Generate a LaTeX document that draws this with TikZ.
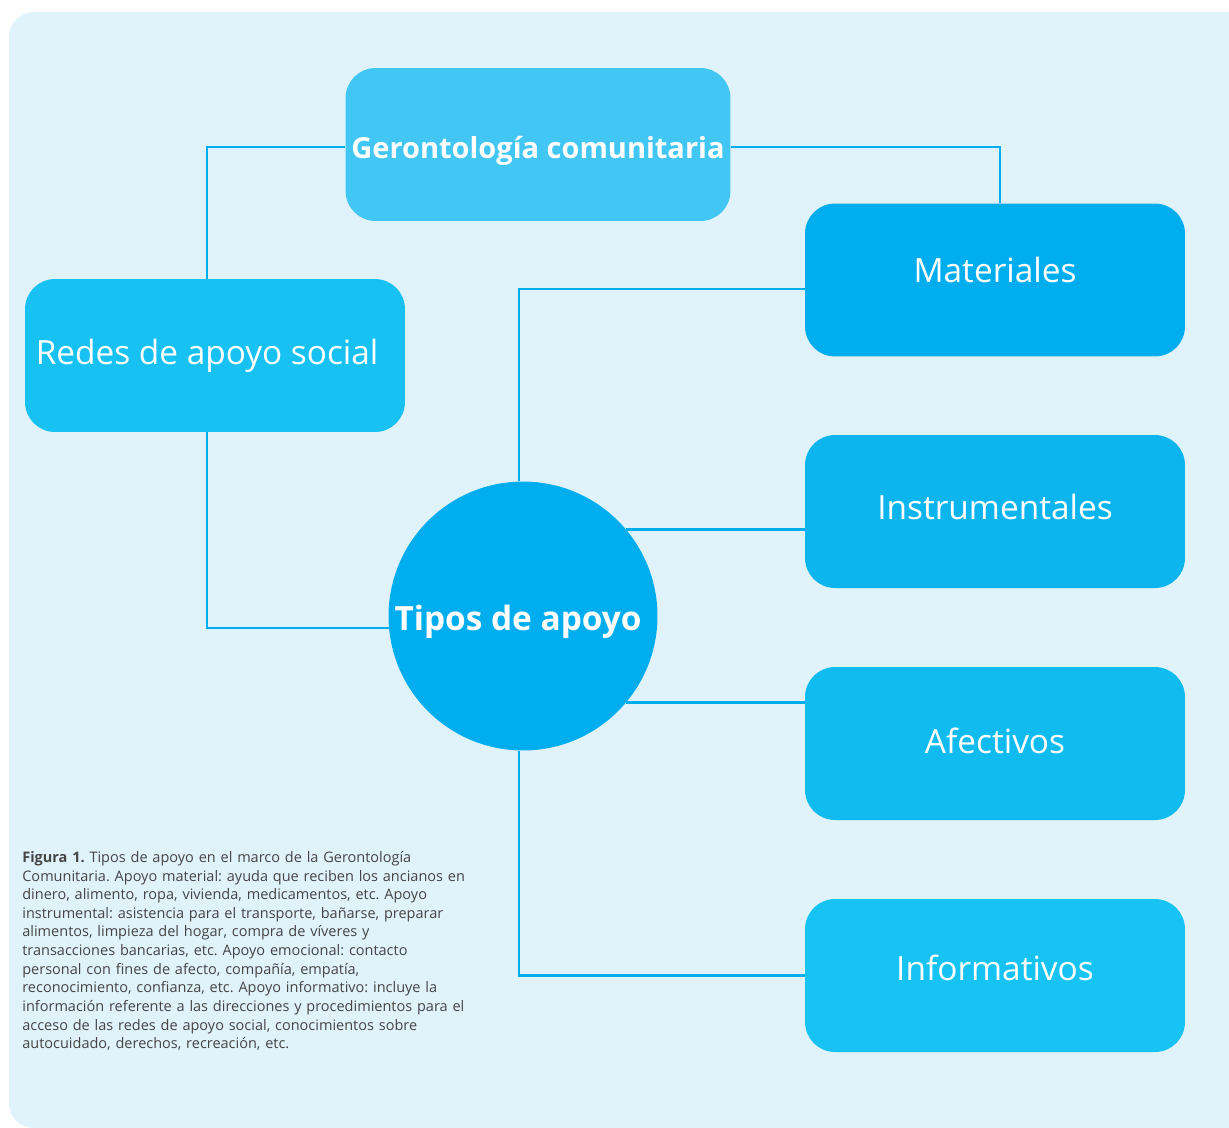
\documentclass[tikz,border=0pt]{standalone}
\usepackage{fontspec}
\setmainfont{Open Sans}
\usetikzlibrary{positioning,calc}
\definecolor{bgblue}{HTML}{E0F2FA}
\definecolor{lineblue}{HTML}{00AEEF}
\definecolor{gerblue}{HTML}{42C7F4}
\definecolor{redblue}{HTML}{17C1F2}
\definecolor{matblue}{HTML}{00AEEF}
\definecolor{insblue}{HTML}{0DB5EE}
\definecolor{afeblue}{HTML}{10BBF0}
\definecolor{infblue}{HTML}{17C3F3}
\definecolor{capgray}{HTML}{454545}
\newcommand{\liftlabel}[2]{\raisebox{#1}[\height][\depth]{#2}}

\begin{document}
\begin{tikzpicture}[x=0.02cm, y=-0.02cm,
    box/.style={rectangle, rounded corners=0.6cm, minimum width=7.6cm, minimum height=3.06cm,
                text=white, font=\fontsize{19}{22}\selectfont},
    link/.style={draw=lineblue, line width=1.4pt}]

    % Frame
    \useasboundingbox (0,0) rectangle (1229,1127);
    \clip (0,0) rectangle (1229,1127);
    \fill[bgblue, rounded corners=0.5cm] (9,12) rectangle (1260,1128);

    % Nodes
    \node at (538,144.5) (geron) [box, fill=gerblue, font=\fontsize{16.5}{20}\selectfont\bfseries] {\liftlabel{-3.4pt}{Gerontología comunitaria}};
    \node at (215,355.5) (redes) [box, fill=redblue] {\kern-9pt Redes de apoyo social};
    \node at (995,280) (mater) [box, fill=matblue] {\liftlabel{5.7pt}{Materiales}};
    \node at (995,511.5) (instr) [box, fill=insblue] {\liftlabel{2.3pt}{Instrumentales}};
    \node at (995,743.5) (afect) [box, fill=afeblue] {\liftlabel{1.7pt}{Afectivos}};
    \node at (995,975.5) (infor) [box, fill=infblue] {\liftlabel{4.5pt}{Informativos}};
    \node at (523,616) (tipos) [circle, fill=lineblue, minimum size=5.38cm, inner sep=0pt,
        text=white, font=\fontsize{19}{22}\selectfont\bfseries] {\kern-5.6pt\liftlabel{-3.4pt}{Tipos de apoyo}};

    % Lines
    \draw[link] ($(geron.west)+(0,2.5)$) -| ($(redes.north)+(-8,0)$);
    \draw[link] ($(geron.east)+(0,2.5)$) -| ($(mater.north)+(5,0)$);
    \draw[link] ($(redes.south)+(-8,0)$) |- (tipos.185);
    \draw[link] ($(tipos.north)+(-4,0)$) |- ($(mater.west)+(0,9)$);
    \draw[link] (tipos.40) -- (tipos.40 -| instr.west);
    \draw[link] (tipos.-40) -- (tipos.-40 -| afect.west);
    \draw[link] ($(tipos.south)+(-4,0)$) |- (infor.west);

    % Caption
    \node at (22,851) (caption) [anchor=north west, inner sep=0pt, text width=9.8cm, align=left,
        text=capgray, font=\fontsize{8.25}{10.6}\selectfont]
        {\frenchspacing\textbf{Figura 1.} Tipos de apoyo en el marco de la Gerontología\\
         Comunitaria. Apoyo material: ayuda que reciben los ancianos en\\
         dinero, alimento, ropa, vivienda, medicamentos, etc. Apoyo\\
         instrumental: asistencia para el transporte, bañarse, preparar\\
         alimentos, limpieza del hogar, compra de víveres y\\
         transacciones bancarias, etc. Apoyo emocional: contacto\\
         personal con fines de afecto, compañía, empatía,\\
         reconocimiento, confianza, etc. Apoyo informativo: incluye la\\
         información referente a las direcciones y procedimientos para el\\
         acceso de las redes de apoyo social, conocimientos sobre\\
         autocuidado, derechos, recreación, etc.};

\end{tikzpicture}
\end{document}
